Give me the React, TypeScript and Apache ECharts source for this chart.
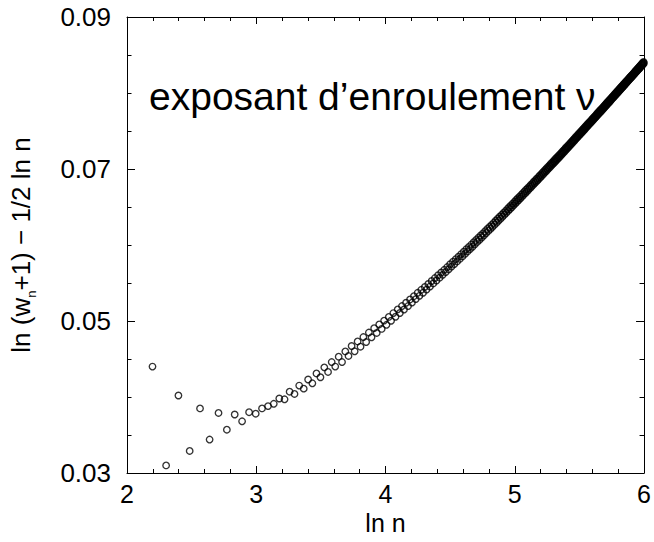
import React, { useEffect, useRef } from "react";
import * as echarts from "echarts";

// Points are drawn at x = ln n for consecutive integers n, starting at n = 9.
const firstN = 9;

// y = ln(w_n + 1) - 1/2 ln n (n = 9 ... 403)
const yValues = [
  // n = 9 .. 41
  0.0440, 0.0310, 0.0402, 0.0329, 0.0385, 0.0344, 0.0379, 0.0357, 0.0377, 0.0368,
  0.0380, 0.0378, 0.0385, 0.0388, 0.0391, 0.0398, 0.0397, 0.0407, 0.0404, 0.0415,
  0.0411, 0.0423, 0.0418, 0.0431, 0.0426, 0.0439, 0.0433, 0.0446, 0.0440, 0.0453,
  0.0446, 0.0460, 0.0454,
  // n = 42 .. 50
  0.04671, 0.04601, 0.04731, 0.04662, 0.04789, 0.04723, 0.04848, 0.04785, 0.04906,
  // n = 51 .. 100
  0.04843, 0.04955, 0.04896, 0.05005, 0.04950, 0.05054, 0.05003, 0.05104, 0.05056, 0.05153,
  0.05105, 0.05197, 0.05151, 0.05240, 0.05197, 0.05284, 0.05242, 0.05327, 0.05288, 0.05371,
  0.05331, 0.05410, 0.05372, 0.05449, 0.05413, 0.05487, 0.05453, 0.05526, 0.05494, 0.05565,
  0.05533, 0.05602, 0.05570, 0.05638, 0.05607, 0.05674, 0.05644, 0.05710, 0.05681, 0.05747,
  0.05716, 0.05780, 0.05749, 0.05813, 0.05784, 0.05846, 0.05817, 0.05880, 0.05850, 0.05913,
  // n = 101 .. 150
  0.05883, 0.05944, 0.05915, 0.05974, 0.05946, 0.06006, 0.05977, 0.06036, 0.06009, 0.06067,
  0.06040, 0.06096, 0.06069, 0.06125, 0.06099, 0.06153, 0.06128, 0.06182, 0.06157, 0.06211,
  0.06185, 0.06238, 0.06212, 0.06265, 0.06240, 0.06292, 0.06267, 0.06319, 0.06294, 0.06346,
  0.06321, 0.06372, 0.06346, 0.06397, 0.06373, 0.06422, 0.06399, 0.06447, 0.06424, 0.06473,
  0.06449, 0.06497, 0.06473, 0.06521, 0.06497, 0.06545, 0.06522, 0.06568, 0.06546, 0.06592,
  // n = 151 .. 200
  0.06569, 0.06615, 0.06592, 0.06637, 0.06615, 0.06660, 0.06637, 0.06682, 0.06660, 0.06705,
  0.06682, 0.06727, 0.06703, 0.06748, 0.06726, 0.06769, 0.06748, 0.06790, 0.06769, 0.06812,
  0.06790, 0.06832, 0.06811, 0.06853, 0.06831, 0.06873, 0.06851, 0.06894, 0.06872, 0.06914,
  0.06892, 0.06933, 0.06911, 0.06953, 0.06932, 0.06971, 0.06951, 0.06991, 0.06970, 0.07010,
  0.06989, 0.07029, 0.07008, 0.07047, 0.07027, 0.07066, 0.07045, 0.07085, 0.07064, 0.07103,
  // n = 201 .. 250
  0.07082, 0.07120, 0.07099, 0.07138, 0.07117, 0.07155, 0.07134, 0.07173, 0.07151, 0.07190,
  0.07170, 0.07206, 0.07187, 0.07224, 0.07204, 0.07241, 0.07222, 0.07259, 0.07239, 0.07276,
  0.07256, 0.07292, 0.07272, 0.07308, 0.07289, 0.07325, 0.07305, 0.07341, 0.07321, 0.07357,
  0.07338, 0.07372, 0.07354, 0.07388, 0.07370, 0.07405, 0.07387, 0.07421, 0.07403, 0.07437,
  0.07418, 0.07452, 0.07433, 0.07467, 0.07448, 0.07482, 0.07463, 0.07497, 0.07478, 0.07512,
  // n = 251 .. 300
  0.07493, 0.07527, 0.07508, 0.07542, 0.07523, 0.07556, 0.07538, 0.07571, 0.07553, 0.07586,
  0.07568, 0.07599, 0.07582, 0.07613, 0.07596, 0.07627, 0.07610, 0.07641, 0.07624, 0.07655,
  0.07637, 0.07668, 0.07651, 0.07682, 0.07665, 0.07696, 0.07679, 0.07710, 0.07693, 0.07724,
  0.07706, 0.07737, 0.07719, 0.07750, 0.07732, 0.07763, 0.07745, 0.07776, 0.07758, 0.07789,
  0.07771, 0.07802, 0.07784, 0.07815, 0.07797, 0.07828, 0.07810, 0.07841, 0.07823, 0.07854,
  // n = 301 .. 350
  0.07836, 0.07866, 0.07848, 0.07878, 0.07861, 0.07891, 0.07873, 0.07903, 0.07885, 0.07915,
  0.07898, 0.07926, 0.07910, 0.07938, 0.07923, 0.07951, 0.07935, 0.07963, 0.07947, 0.07975,
  0.07959, 0.07987, 0.07970, 0.07998, 0.07982, 0.08010, 0.07993, 0.08021, 0.08005, 0.08033,
  0.08016, 0.08044, 0.08028, 0.08056, 0.08039, 0.08067, 0.08051, 0.08079, 0.08062, 0.08090,
  0.08073, 0.08101, 0.08084, 0.08112, 0.08095, 0.08123, 0.08106, 0.08134, 0.08117, 0.08145,
  // n = 351 .. 403
  0.08129, 0.08154, 0.08140, 0.08165, 0.08151, 0.08176, 0.08162, 0.08187, 0.08173, 0.08198,
  0.08183, 0.08208, 0.08193, 0.08218, 0.08204, 0.08229, 0.08214, 0.08239, 0.08224, 0.08249,
  0.08234, 0.08259, 0.08244, 0.08269, 0.08255, 0.08280, 0.08265, 0.08290, 0.08275, 0.08300,
  0.08285, 0.08310, 0.08295, 0.08320, 0.08305, 0.08329, 0.08314, 0.08339, 0.08324, 0.08349,
  0.08334, 0.08359, 0.08344, 0.08369, 0.08354, 0.08378, 0.08363, 0.08388, 0.08373, 0.08398,
  0.08383, 0.08408, 0.08392,
];

const xRange = [2, 6];
const yRange = [0.03, 0.09];
const yLabelTicks = [0.03, 0.05, 0.07, 0.09];
const xTitle = "ln n";
const yTitleParts = ["ln (w", "n", "+1) \u2212 1/2 ln n"];
const annotation = "exposant d\u2019enroulement \u03bd";

const FONT = "'Liberation Sans', Arial, Helvetica, sans-serif";

export default function App() {
  const ref = useRef<HTMLDivElement>(null);

  useEffect(() => {
    if (!ref.current) return;
    const chart = echarts.init(ref.current, null, { renderer: "svg" });
    const data = yValues.map((y, i) => [Math.log(firstN + i), y]);

    const black = { color: "#000", width: 1 };
    const axisLine = { show: true, onZero: false, lineStyle: black };

    const xBase = (pos: string, labels: boolean) => ({
      type: "value",
      position: pos,
      min: xRange[0],
      max: xRange[1],
      interval: 1,
      axisLine,
      axisTick: { show: true, inside: true, length: 7, lineStyle: black },
      minorTick: { show: true, splitNumber: 5, length: 4, lineStyle: black },
      splitLine: { show: false },
      minorSplitLine: { show: false },
      axisLabel: labels
        ? { show: true, color: "#000", fontSize: 25, fontFamily: FONT, margin: 8 }
        : { show: false },
    });

    const yMinor = (pos: string, labels: boolean) => ({
      type: "value",
      position: pos,
      min: yRange[0],
      max: yRange[1],
      interval: 0.005,
      axisLine,
      axisTick: { show: true, inside: true, length: 4.5, lineStyle: black },
      splitLine: { show: false },
      axisLabel: labels
        ? {
            show: true,
            color: "#000",
            fontSize: 26,
            fontFamily: FONT,
            margin: 16,
            formatter: (v: number) => {
              const hit = yLabelTicks.some((t) => Math.abs(t - v) < 1e-6);
              return hit ? v.toFixed(2) : "";
            },
          }
        : { show: false },
    });

    const yMajor = (pos: string) => ({
      type: "value",
      position: pos,
      min: yRange[0],
      max: yRange[1],
      interval: 0.005,
      axisLine: { show: false, onZero: false },
      axisTick: { show: true, inside: true, length: 8, lineStyle: black, customValues: yLabelTicks },
      splitLine: { show: false },
      axisLabel: { show: false },
    });

    const y0: any = yMinor("left", true);
    y0.name = `{a|${yTitleParts[0]}}{s|${yTitleParts[1]}}{a|${yTitleParts[2]}}`;
    y0.nameLocation = "middle";
    y0.nameRotate = 90;
    y0.nameGap = 89;
    y0.nameTextStyle = {
      rich: {
        a: { fontSize: 26, lineHeight: 34, fontFamily: FONT, color: "#000" },
        s: { fontSize: 13, lineHeight: 13, verticalAlign: "bottom", fontFamily: FONT, color: "#000" },
      },
    };

    const x0: any = xBase("bottom", true);
    x0.name = xTitle;
    x0.nameLocation = "middle";
    x0.nameGap = 37;
    x0.nameTextStyle = { fontSize: 25, fontFamily: FONT, color: "#000" };

    chart.setOption({
      animation: false,
      backgroundColor: "#fff",
      grid: { left: 124, right: 9, top: 17, bottom: 69, containLabel: false },
      xAxis: [x0, xBase("top", false)],
      yAxis: [y0, yMajor("left"), yMinor("right", false), yMajor("right")],
      graphic: [
        {
          type: "text",
          x: 149,
          y: 96,
          style: {
            text: annotation,
            fontSize: 39,
            fontFamily: FONT,
            fill: "#000",
            align: "left",
            verticalAlign: "middle",
            textAlign: "left",
            textVerticalAlign: "middle",
          },
        },
      ],
      series: [
        {
          type: "scatter",
          xAxisIndex: 0,
          yAxisIndex: 0,
          data,
          symbol: "circle",
          symbolSize: 6.5,
          large: false,
          itemStyle: { color: "rgba(0,0,0,0)", borderColor: "#000", borderWidth: 1.35 },
          emphasis: { disabled: true },
        },
      ],
    });

    return () => chart.dispose();
  }, []);

  return (
    <div
      ref={ref}
      style={{ position: "absolute", left: 0, top: 0, width: 654, height: 542, background: "#fff" }}
    />
  );
}
